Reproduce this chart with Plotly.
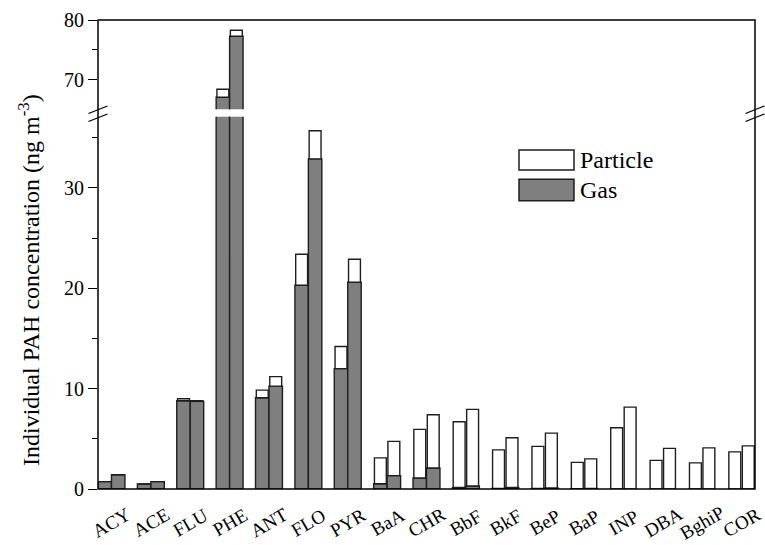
import plotly.graph_objects as go

# ---- data ----
compounds = ["ACY", "ACE", "FLU", "PHE", "ANT", "FLO", "PYR", "BaA", "CHR",
             "BbF", "BkF", "BeP", "BaP", "INP", "DBA", "BghiP", "COR"]
gas_1 = [0.73, 0.50, 8.80, 67.1, 9.10, 20.3, 12.0, 0.53, 1.10,
         0.15, 0.05, 0.05, 0.03, 0.0, 0.0, 0.0, 0.0]
particle_1 = [0.0, 0.0, 0.20, 1.35, 0.75, 3.10, 2.20, 2.57, 4.84,
              6.55, 3.85, 4.20, 2.62, 6.10, 2.85, 2.60, 3.70]
gas_2 = [1.42, 0.73, 8.73, 77.3, 10.25, 32.9, 20.6, 1.33, 2.10,
         0.30, 0.15, 0.10, 0.05, 0.0, 0.0, 0.0, 0.0]
particle_2 = [0.0, 0.0, 0.07, 1.0, 0.95, 2.80, 2.30, 3.42, 5.30,
              7.63, 4.95, 5.47, 2.95, 8.16, 4.05, 4.10, 4.30]
series_names = ["Particle", "Gas"]
y_title = "Individual PAH concentration (ng m<sup>-3</sup>)"

FONT = "Liberation Serif, Times New Roman, Times, serif"
GAS_COLOR = "#7f7f7f"
EDGE = "#1e1e1e"
BW = 0.342          # bar width (category units)
PW = 0.302          # particle bar width (slightly inset)
INS = (BW - PW) / 2

x_idx = list(range(len(compounds)))

fig = go.Figure()

for yax in ["y", "y2"]:
    for k, (g, p) in enumerate([(gas_1, particle_1), (gas_2, particle_2)]):
        off = -BW if k == 0 else 0.0
        fig.add_trace(go.Bar(
            x=x_idx, y=g, offset=off, width=BW, yaxis=yax,
            marker=dict(color=GAS_COLOR, line=dict(color=EDGE, width=1.4)),
            showlegend=False, hoverinfo="skip"))
        fig.add_trace(go.Bar(
            x=x_idx, y=p, base=g, offset=off + INS, width=PW, yaxis=yax,
            marker=dict(color="white", line=dict(color=EDGE, width=1.4)),
            showlegend=False, hoverinfo="skip"))

# ---- layout geometry (pixels -> paper) ----
L, R, T, B = 98, 10, 20, 56
W, H = 765, 545
pw, ph = W - L - R, H - T - B


def px(xp):
    return (xp - L) / pw


def py(yp):
    return (H - B - yp) / ph


tickfont = dict(family=FONT, size=20, color="black")

fig.update_layout(
    width=W, height=H,
    margin=dict(l=L, r=R, t=T, b=B),
    paper_bgcolor="white", plot_bgcolor="white",
    barmode="overlay",
    showlegend=False,
    font=dict(family=FONT, color="black"),
    xaxis=dict(range=[-BW, len(compounds) - 1 + BW], showticklabels=False,
               ticks="", showgrid=False, zeroline=False, showline=False,
               fixedrange=True),
    yaxis=dict(domain=[0, py(116.7)], range=[0, 37.1],
               tickvals=[0, 10, 20, 30], ticks="outside", ticklen=9,
               tickwidth=1.3, tickcolor="black",
               minor=dict(tickvals=[5, 15, 25, 35], ticks="outside",
                          ticklen=5, tickwidth=1.3, tickcolor="black"),
               showgrid=False, zeroline=False, showline=False,
               tickfont=tickfont, anchor="x"),
    yaxis2=dict(domain=[py(109.3), 1], range=[65.1, 80],
                tickvals=[70, 80], ticks="outside", ticklen=9,
                tickwidth=1.3, tickcolor="black",
                minor=dict(tickvals=[75], ticks="outside", ticklen=5,
                           tickwidth=1.3, tickcolor="black"),
                showgrid=False, zeroline=False, showline=False,
                tickfont=tickfont, anchor="x"),
)

shapes = []
# frame
shapes.append(dict(type="rect", xref="paper", yref="paper", x0=0, y0=0,
                   x1=1, y1=1, line=dict(color="black", width=1.5),
                   fillcolor="rgba(0,0,0,0)"))
# axis break marks (left and right)
for cx in (L, W - R):
    for dy in (0, 8):
        shapes.append(dict(type="line", xref="paper", yref="paper",
                           x0=px(cx - 9.5), y0=py(113.5 + dy),
                           x1=px(cx + 9.5), y1=py(106 + dy),
                           line=dict(color="black", width=1.2)))
# legend swatches
shapes.append(dict(type="rect", xref="paper", yref="paper",
                   x0=px(519), x1=px(574), y0=py(170), y1=py(150),
                   fillcolor="white", line=dict(color=EDGE, width=1.5)))
shapes.append(dict(type="rect", xref="paper", yref="paper",
                   x0=px(519), x1=px(574), y0=py(200.7), y1=py(179.3),
                   fillcolor=GAS_COLOR, line=dict(color=EDGE, width=1.5)))
fig.update_layout(shapes=shapes)

ann = []
for i, name in enumerate(compounds):
    ann.append(dict(text=name, x=i, xref="x", y=py(522), yref="paper",
                    textangle=-30, showarrow=False, xanchor="center",
                    yanchor="middle", font=dict(family=FONT, size=19)))
for name, yc in zip(series_names, (160, 190)):
    ann.append(dict(text=name, x=px(578), xref="paper", y=py(yc),
                    yref="paper", showarrow=False, xanchor="left",
                    yanchor="middle", font=dict(family=FONT, size=24)))
ann.append(dict(text=y_title, x=px(29), xref="paper", y=py(280),
                yref="paper", textangle=-90, showarrow=False,
                xanchor="center", yanchor="middle",
                font=dict(family=FONT, size=24)))
fig.update_layout(annotations=ann)

fig.write_html(
    "out.html",
    config={"displayModeBar": False},
    post_script="document.body.style.margin='0';"
                "document.body.style.padding='0';"
                "document.body.style.overflow='hidden';",
)
